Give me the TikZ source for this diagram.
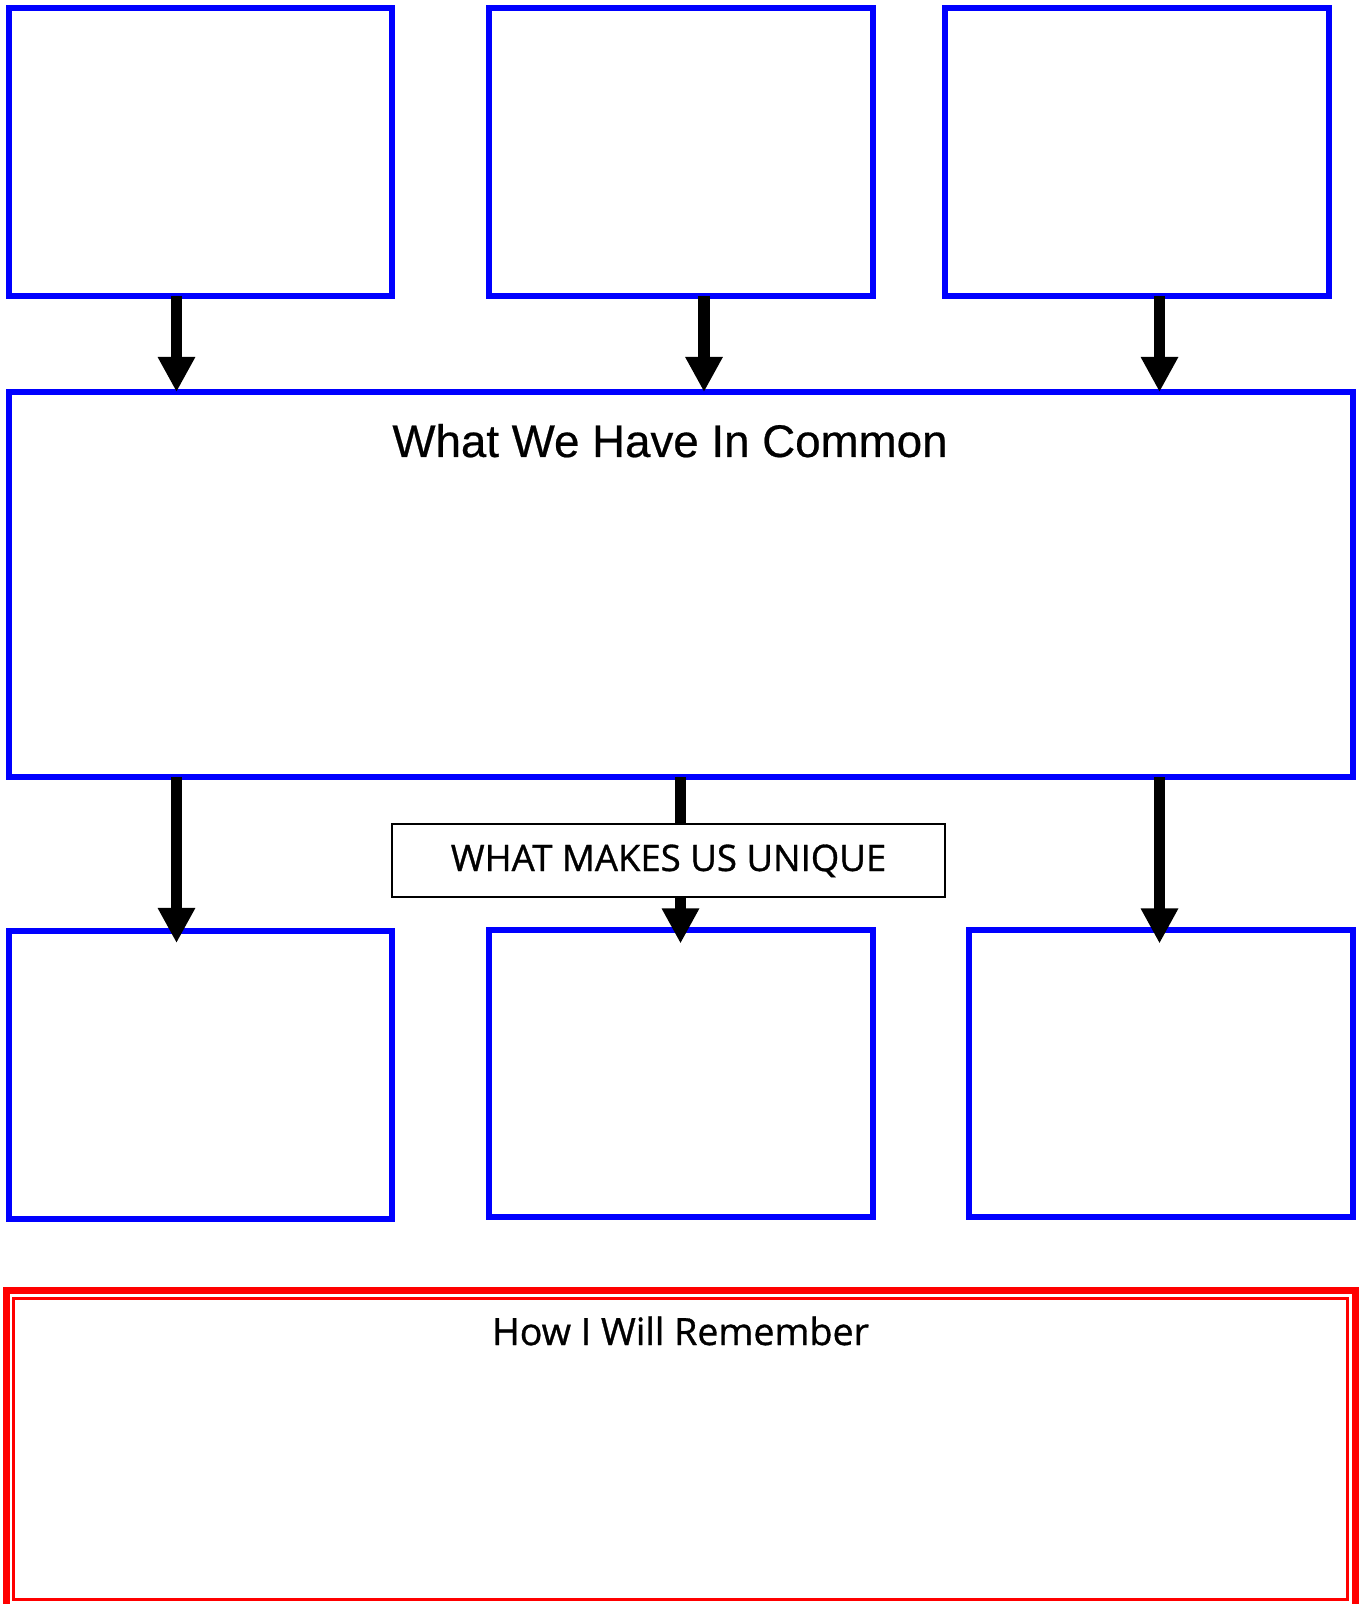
\documentclass[tikz,border=0pt]{standalone}
\usepackage{fontspec}
\setmainfont{Liberation Sans}
\newfontfamily\titlefont[FakeBold=0.5]{Liberation Sans}
\newfontfamily\headfont[FakeBold=0.9]{Open Sans}
\usetikzlibrary{arrows.meta}

\tikzset{
  box/.style={draw=blue, line width=3.4pt, inner sep=0pt, outer sep=0pt,
    minimum width=7.67cm, minimum height=5.76cm},
  arr/.style={line width=6.8pt, -{Triangle[width=20pt,length=20pt]}},
  redbox/.style={draw=red, inner sep=0pt, outer sep=0pt},
}

\begin{document}
\begin{tikzpicture}[x=0.02cm, y=-0.02cm]
\useasboundingbox (0,0) rectangle (1360,1604);

% top row
\node[box] (t1) at (200.5,152) {};
\node[box] (t2) at (681,152) {};
\node[box] (t3) at (1137,152) {};

% what we have in common
\node[box, minimum width=26.88cm, minimum height=7.7cm] (common) at (681,584.5) {};
\node[anchor=base, font=\titlefont\fontsize{26}{30}\selectfont] (ctitle) at (670,457) {What We Have In Common};

% bottom row
\node[box] (b1) at (200.5,1075) {};
\node[box] (b2) at (681,1073.5) {};
\node[box] (b3) at (1161,1073.5) {};

% arrows
\coordinate (x1) at (176.5,0);
\coordinate (x2) at (704,0);
\coordinate (x3) at (1159.5,0);
\coordinate (x4) at (176.5,0);
\coordinate (x5) at (680.5,0);
\coordinate (x6) at (1159.5,0);
\draw[arr] (x1 |- t1.south) -- (x1 |- common.north);
\draw[arr] (x2 |- t2.south) -- (x2 |- common.north);
\draw[arr] (x3 |- t3.south) -- (x3 |- common.north);
\draw[arr] (x4 |- common.south) -- ([yshift=-0.24cm]x4 |- b1.north);
\draw[arr] (x5 |- common.south) -- ([yshift=-0.28cm]x5 |- b2.north);
\draw[arr] (x6 |- common.south) -- ([yshift=-0.28cm]x6 |- b3.north);

\node[draw=black, line width=1.1pt, fill=white, inner sep=0pt,
  minimum width=11.06cm, minimum height=1.46cm] (unique) at (668.5,860.5) {};
\node[anchor=base, font=\headfont\fontsize{20.8}{24}\selectfont] (utitle) at (668.5,871) {WHAT MAKES US UNIQUE};

% how I will remember
\node[redbox, line width=4pt, minimum width=26.98cm, minimum height=6.43cm] (rframe) at (681,1451.25) {};
\node[redbox, line width=1.7pt, minimum width=26.686cm, minimum height=6.03cm] (remember) at (680.85,1449.25) {};
\node[anchor=base, font=\headfont\fontsize{21.4}{25}\selectfont] (rtitle) at (680.5,1345) {How I Will Remember};
\end{tikzpicture}
\end{document}
